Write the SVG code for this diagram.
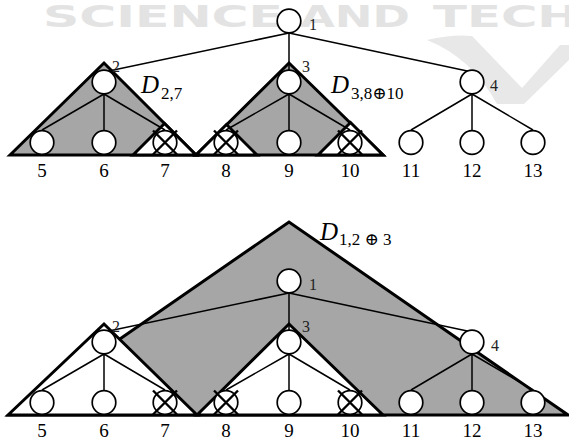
<svg xmlns="http://www.w3.org/2000/svg" xmlns:xlink="http://www.w3.org/1999/xlink" width="569" height="441" viewBox="0 0 569 441">
  <style>
    .wm{fill:#e3e3e3;font-family:"DejaVu Sans","Liberation Sans",sans-serif;font-weight:bold;font-size:30px}
    .shade{fill:#a6a6a6;stroke:#000;stroke-width:3;stroke-linejoin:miter}
    .clear{fill:#fff;stroke:#000;stroke-width:3;stroke-linejoin:miter}
    .edge{stroke:#000;stroke-width:1.5;fill:none}
    .node{fill:#fff;stroke:#000;stroke-width:1.7}
    .cross{stroke:#000;stroke-width:2.4;fill:none}
    .leaf{font-family:"Liberation Serif","DejaVu Serif",serif;font-size:19px;text-anchor:middle;fill:#000}
    .id{font-family:"Liberation Serif","DejaVu Serif",serif;font-size:16px;fill:#222}
    .dl{font-family:"Liberation Serif","DejaVu Serif",serif;font-style:italic;font-size:25px;fill:#000}
    .sub{font-family:"Liberation Serif","DejaVu Serif",serif;font-size:17px;fill:#000}
  </style>
  <defs>
    <circle id="c" r="11.8" class="node"/>
    <path id="x" class="cross" d="M-12,-12L12,12M12,-12L-12,12"/>
  </defs>

  <rect width="569" height="441" fill="#fff"/>

  <!-- publisher watermark -->
  <g id="watermark">
    <path d="M427,40 Q452,34 472,36 L522,88 L560,45 L569,45 L569,60 L524,104 L497,104 Q472,58 427,40 Z" fill="#e8e8e8"/>
    <text class="wm" x="43" y="27" textLength="240" lengthAdjust="spacingAndGlyphs">SCIENCE</text>
    <text class="wm" x="300" y="27" textLength="110" lengthAdjust="spacingAndGlyphs">AND</text>
    <text class="wm" x="433" y="27" textLength="146" lengthAdjust="spacingAndGlyphs">TECH</text>
  </g>

  <!-- ===== upper tree: D(2,7) and D(3,8+10) ===== -->
  <g id="top-regions">
    <polygon class="shade" points="10,155 104,63 196,155"/>
    <polygon class="shade" points="196,155 289,63 383,155"/>
    <polygon class="clear" points="133,155 164.5,123.5 196,155"/>
    <polygon class="clear" points="196,155 226.5,124.5 257,155"/>
    <polygon class="clear" points="318,155 350.5,122.5 383,155"/>
  </g>

  <g id="top-connectors" class="edge">
    <path d="M289,33L104,72"/>
    <path d="M289,33L289,70"/>
    <path d="M289,33L472,72"/>
    <path d="M104,94L42,130M104,94L104,130M104,94L165,130"/>
    <path d="M289,94L226,130M289,94L289,130M289,94L350,130"/>
    <path d="M472,94L411,130M472,94L472,130M472,94L533,130"/>
  </g>

  <g id="t1"><use xlink:href="#c" x="289" y="21"/><text class="id" x="309" y="30">1</text></g>
  <g id="t2"><use xlink:href="#c" x="104" y="82"/><text class="id" x="112" y="72">2</text></g>
  <g id="t3"><use xlink:href="#c" x="289" y="82"/><text class="id" x="302" y="72">3</text></g>
  <g id="t4"><use xlink:href="#c" x="472" y="82"/><text class="id" x="490" y="91">4</text></g>
  <g id="t5"><use xlink:href="#c" x="42" y="142.5"/><text class="leaf" x="42" y="177">5</text></g>
  <g id="t6"><use xlink:href="#c" x="104" y="142.5"/><text class="leaf" x="104" y="177">6</text></g>
  <g id="t7"><use xlink:href="#c" x="165" y="142.5"/><use xlink:href="#x" x="165" y="142.5"/><text class="leaf" x="165" y="177">7</text></g>
  <g id="t8"><use xlink:href="#c" x="226" y="142.5"/><use xlink:href="#x" x="226" y="142.5"/><text class="leaf" x="226" y="177">8</text></g>
  <g id="t9"><use xlink:href="#c" x="289" y="142.5"/><text class="leaf" x="289" y="177">9</text></g>
  <g id="t10"><use xlink:href="#c" x="350" y="142.5"/><use xlink:href="#x" x="350" y="142.5"/><text class="leaf" x="350" y="177">10</text></g>
  <g id="t11"><use xlink:href="#c" x="411" y="142.5"/><text class="leaf" x="411" y="177">11</text></g>
  <g id="t12"><use xlink:href="#c" x="472" y="142.5"/><text class="leaf" x="472" y="177">12</text></g>
  <g id="t13"><use xlink:href="#c" x="533" y="142.5"/><text class="leaf" x="533" y="177">13</text></g>

  <g id="top-labels">
    <text class="dl" x="141" y="93">D</text><text class="sub" x="161" y="99">2,7</text>
    <text class="dl" x="331" y="93">D</text><text class="sub" x="351" y="99">3,8⊕10</text>
  </g>

  <!-- ===== lower tree: D(1,2+3) ===== -->
  <g id="bottom-regions">
    <polygon class="shade" points="10,415 289,222 568,415"/>
    <polygon class="clear" points="8,415 104,324 197,415"/>
    <polygon class="clear" points="197,415 289,324 383,415"/>
  </g>

  <g id="bottom-connectors" class="edge">
    <path d="M289,293L104,332"/>
    <path d="M289,293L289,330"/>
    <path d="M289,293L472,332"/>
    <path d="M104,354L42,390M104,354L104,390M104,354L165,390"/>
    <path d="M289,354L226,390M289,354L289,390M289,354L350,390"/>
    <path d="M472,354L411,390M472,354L472,390M472,354L533,390"/>
  </g>

  <g id="b1"><use xlink:href="#c" x="289" y="281"/><text class="id" x="309" y="290">1</text></g>
  <g id="b2"><use xlink:href="#c" x="104" y="342"/><text class="id" x="112" y="332">2</text></g>
  <g id="b3"><use xlink:href="#c" x="289" y="342"/><text class="id" x="302" y="332">3</text></g>
  <g id="b4"><use xlink:href="#c" x="472" y="342"/><text class="id" x="491" y="351">4</text></g>
  <g id="b5"><use xlink:href="#c" x="42" y="402.5"/><text class="leaf" x="42" y="437">5</text></g>
  <g id="b6"><use xlink:href="#c" x="104" y="402.5"/><text class="leaf" x="104" y="437">6</text></g>
  <g id="b7"><use xlink:href="#c" x="165" y="402.5"/><use xlink:href="#x" x="165" y="402.5"/><text class="leaf" x="165" y="437">7</text></g>
  <g id="b8"><use xlink:href="#c" x="226" y="402.5"/><use xlink:href="#x" x="226" y="402.5"/><text class="leaf" x="226" y="437">8</text></g>
  <g id="b9"><use xlink:href="#c" x="289" y="402.5"/><text class="leaf" x="289" y="437">9</text></g>
  <g id="b10"><use xlink:href="#c" x="350" y="402.5"/><use xlink:href="#x" x="350" y="402.5"/><text class="leaf" x="350" y="437">10</text></g>
  <g id="b11"><use xlink:href="#c" x="411" y="402.5"/><text class="leaf" x="411" y="437">11</text></g>
  <g id="b12"><use xlink:href="#c" x="472" y="402.5"/><text class="leaf" x="472" y="437">12</text></g>
  <g id="b13"><use xlink:href="#c" x="533" y="402.5"/><text class="leaf" x="533" y="437">13</text></g>

  <g id="bottom-labels">
    <text class="dl" x="320" y="240">D</text><text class="sub" x="339" y="245">1,2 ⊕ 3</text>
  </g>
</svg>
